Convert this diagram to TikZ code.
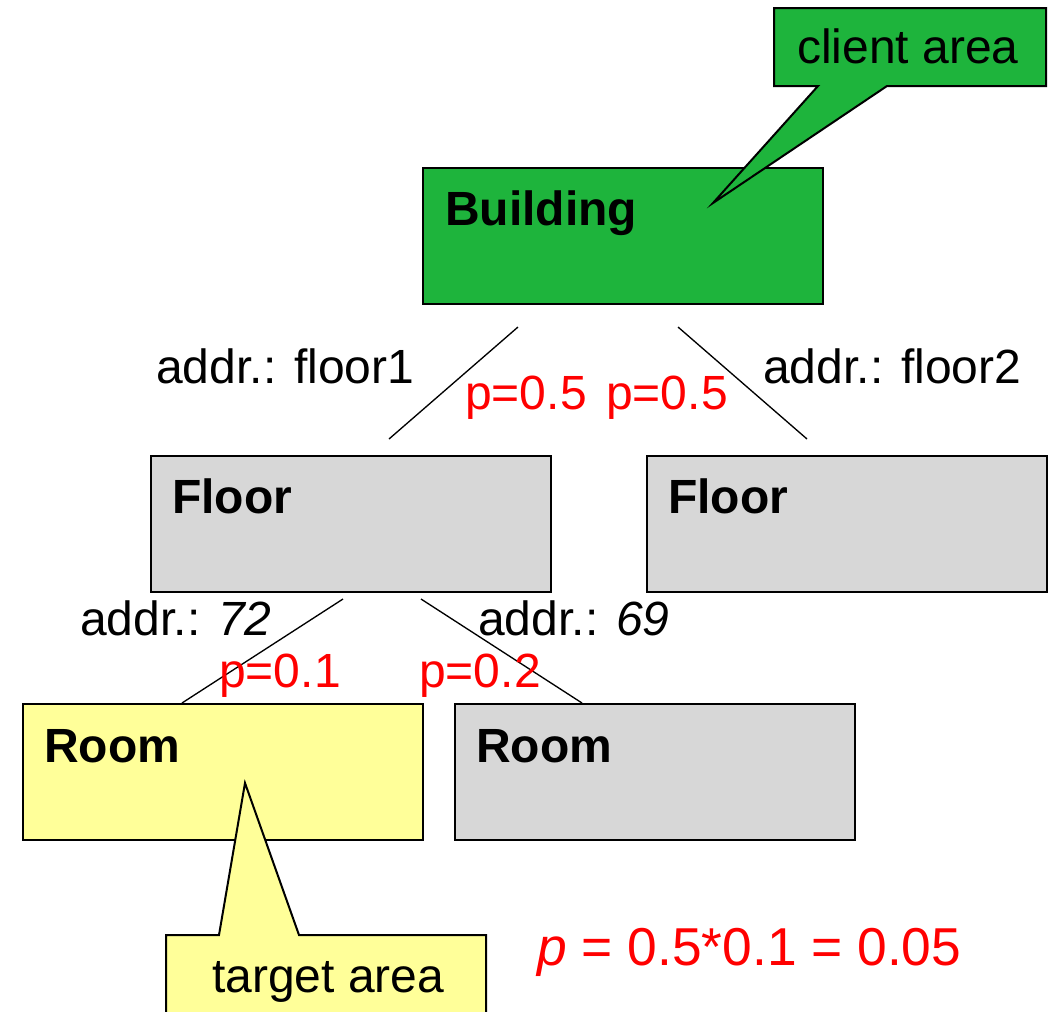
\documentclass[tikz,border=0pt]{standalone}
\usepackage{fontspec}
\setmainfont{Liberation Sans}
\definecolor{bldgreen}{RGB}{30,180,60}
\definecolor{roomyellow}{RGB}{255,255,153}
\definecolor{floorgray}{RGB}{215,215,215}

\begin{document}
\begin{tikzpicture}[x=0.75pt,y=-0.75pt,
  box/.style={draw=black, line width=1.5pt, rectangle, minimum width=300pt,
              minimum height=102pt, anchor=north west, inner sep=0pt},
  title/.style={anchor=base west, inner sep=0pt, font=\fontsize{36}{43}\selectfont\bfseries},
  lbl/.style={anchor=base west, inner sep=0pt, font=\fontsize{36}{43}\selectfont},
  prob/.style={lbl, text=red},
  edge/.style={draw=black, line width=1pt},
  callout/.style={draw=black, line width=1.5pt, line join=miter}]
\useasboundingbox (0,0) rectangle (1053,1011);
\clip (0,0) rectangle (1053,1011);

% hierarchy boxes
\node[box, fill=bldgreen]   (bld)  at (422,167) {};
\node[box, fill=floorgray]  (fl1)  at (150,455) {};
\node[box, fill=floorgray]  (fl2)  at (646,455) {};
\node[box, fill=roomyellow] (rm1)  at (22,703)  {};
\node[box, fill=floorgray]  (rm2)  at (454,703) {};

\node[title] (bldT) at (445,225) {Building};
\node[title] (fl1T) at (172,513) {Floor};
\node[title] (fl2T) at (668,513) {Floor};
\node[title] (rm1T) at (44,762)  {Room};
\node[title] (rm2T) at (476,762) {Room};

% client-area callout
\path[callout, fill=bldgreen] (774,8) -- (1046,8) -- (1046,86) -- (887,86)
  -- (713,203) -- (818,86) -- (774,86) -- cycle;
\node[lbl] (cli) at (797,63) {client area};

% target-area callout
\path[callout, fill=roomyellow] (166,1040) -- (166,935) -- (219,935)
  -- (245,783) -- (299,935) -- (486,935) -- (486,1040);
\node[lbl] (tgt) at (212,992) {target area};

% connector end points
\coordinate (b1) at (518,327);
\coordinate (f1) at (389,439);
\coordinate (b2) at (678,327);
\coordinate (f2) at (807,439);
\coordinate (c1) at (343,599);
\coordinate (r1) at (182,703);
\coordinate (c2) at (421,599);
\coordinate (r2) at (582,703);

\draw[edge] (b1) -- (f1);
\draw[edge] (b2) -- (f2);
\draw[edge] (c1) -- (r1);
\draw[edge] (c2) -- (r2);

% address labels
\node[lbl] (a1) at (156,383) {addr.: floor1};
\node[lbl] (a2) at (763,383) {addr.: floor2};
\node[lbl] (a3) at (80,635)  {addr.: \itshape 72};
\node[lbl] (a4) at (478,635) {addr.: \itshape 69};

% probabilities
\node[prob] (p1) at (465,409) {p=0.5};
\node[prob] (p2) at (606,409) {p=0.5};
\node[prob] (p3) at (219,687) {p=0.1};
\node[prob] (p4) at (419,687) {p=0.2};

\node[anchor=base west, inner sep=0pt, text=red, font=\fontsize{40}{48}\selectfont]
  (res) at (537,965) {{\itshape p} = 0.5*0.1 = 0.05};
\end{tikzpicture}
\end{document}
